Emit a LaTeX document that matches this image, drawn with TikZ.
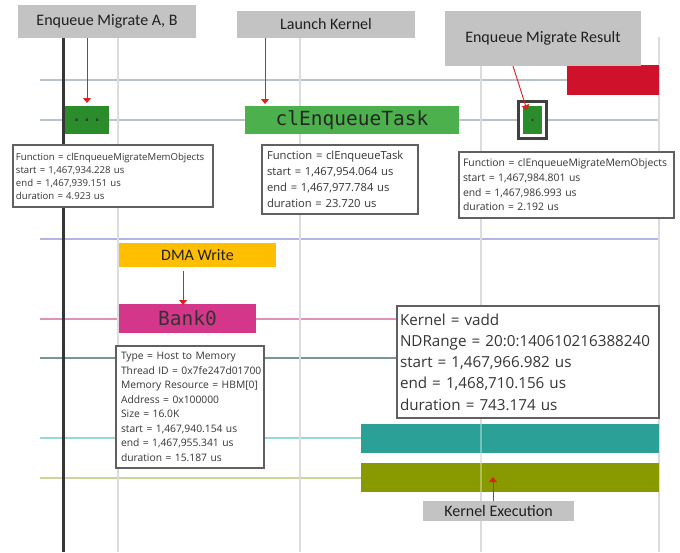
\documentclass[tikz,border=0pt]{standalone}
\usepackage{fontspec}
\setmainfont{Open Sans}
\newfontfamily\labelfont{Carlito}
\newfontfamily\codefont{DejaVu Sans Mono}
\usetikzlibrary{arrows.meta}

\definecolor{gridgrey}{HTML}{DCDCDC}
\definecolor{axisdark}{HTML}{363636}
\definecolor{trackblue}{HTML}{B8C4CC}
\definecolor{tracklav}{HTML}{B4B4E6}
\definecolor{trackpink}{HTML}{E092BA}
\definecolor{trackslate}{HTML}{789696}
\definecolor{trackcyan}{HTML}{98D8D8}
\definecolor{tracklime}{HTML}{C8D898}
\definecolor{barred}{HTML}{D0112B}
\definecolor{bardkgreen}{HTML}{2A8C2A}
\definecolor{bargreen}{HTML}{4CB04C}
\definecolor{baramber}{HTML}{FFBE00}
\definecolor{barmagenta}{HTML}{D4378A}
\definecolor{barteal}{HTML}{2AA096}
\definecolor{barolive}{HTML}{889A00}
\definecolor{calloutgrey}{HTML}{C3C3C3}
\definecolor{labeltext}{HTML}{202020}
\definecolor{infoborder}{HTML}{606060}
\definecolor{infotext}{HTML}{353535}
\definecolor{framegrey}{HTML}{404040}
\definecolor{arrowred}{HTML}{E02020}

% one unbreakable line of a tooltip
\newcommand\tipline[1]{\mbox{#1}}

\begin{document}
\begin{tikzpicture}[x=1pt,y=-1pt,
  grid/.style={draw=gridgrey, line width=2.5pt},
  track/.style={line width=2.2pt},
  bar/.style={anchor=north west, inner sep=0pt, outer sep=0pt},
  callout/.style={bar, fill=calloutgrey, text=labeltext,
    font=\labelfont\fontsize{16}{18}\selectfont},
  info/.style={anchor=north west, draw=infoborder, line width=2pt, fill=white,
    text=infotext, align=left, inner xsep=3pt, inner ysep=0pt, outer sep=0pt},
  pointer/.style={draw=arrowred, line width=0.9pt,
    -{Triangle[length=5pt,width=8pt]}},
]
\useasboundingbox[fill=white] (0,0) rectangle (680,552);

% timeline tracks
\draw[track, draw=trackblue]  (40,80)  -- (659,80);
\draw[track, draw=trackblue]  (40,120) -- (659,120);
\draw[track, draw=tracklav]   (40,239) -- (659,239);
\draw[track, draw=trackpink]  (40,319) -- (659,319);
\draw[track, draw=trackslate] (40,358) -- (659,358);
\draw[track, draw=trackcyan]  (40,438) -- (659,438);
\draw[track, draw=tracklime]  (40,478) -- (659,478);

% time grid
\foreach \gx in {118,300,481,659}
  \draw[grid] (\gx,37) -- (\gx,552);
\draw[draw=axisdark, line width=3pt] (63,38) -- (63,552);

% activity bars
\node[bar, fill=barred, minimum width=92pt, minimum height=30pt] (hostbar) at (567,65) {};
\node[bar, fill=bardkgreen, minimum width=44pt, minimum height=28pt,
  text=black!80, font=\codefont\fontsize{17}{17}\selectfont] (dots) at (65,106) {...};
\node[bar, fill=bargreen, minimum width=214pt, minimum height=28pt,
  text=black!85, font=\codefont\fontsize{19.5}{20}\selectfont] (task) at (245,106) {clEnqueueTask};
\node[bar, draw=framegrey, line width=3pt, fill=white,
  minimum width=28pt, minimum height=37pt] (resframe) at (518.5,101.5) {};
\node[bar, fill=bardkgreen, minimum width=19pt, minimum height=28pt,
  text=black!80, font=\codefont\fontsize{14}{14}\selectfont] (res) at (523,106) {.};
\node[bar, fill=baramber, minimum width=157pt, minimum height=24pt,
  text=labeltext, font=\labelfont\fontsize{16}{18}\selectfont] (dma) at (119,243) {DMA Write};
\node[bar, fill=barmagenta, minimum width=137pt, minimum height=29pt,
  text=black!80, font=\codefont\fontsize{19.5}{20}\selectfont] (bank) at (119,304) {Bank0};
\node[bar, fill=barteal, minimum width=298pt, minimum height=29pt] (cu) at (361,424) {};
\node[bar, fill=barolive, minimum width=298pt, minimum height=29pt] (kexec) at (361,463) {};
\draw[draw=white, opacity=0.35, line width=2pt] (cu.north -| 481,0) -- (kexec.south -| 481,0);

% tooltips
\node[info, text width=194pt, minimum height=62pt, font=\fontsize{9.6}{13}\selectfont] (infoA) at (13,145)
  {\tipline{Function = clEnqueueMigrateMemObjects}\\\tipline{start = 1,467,934.228 us}\\\tipline{end = 1,467,939.151 us}\\\tipline{duration = 4.923 us}};
\node[info, inner xsep=5pt, text width=146pt, minimum height=69pt, font=\fontsize{11.2}{16.2}\selectfont] (infoK) at (262,145)
  {\tipline{Function = clEnqueueTask}\\\tipline{start = 1,467,954.064 us}\\\tipline{end = 1,467,977.784 us}\\\tipline{duration = 23.720 us}};
\node[info, inner xsep=4pt, text width=207pt, minimum height=66pt, font=\fontsize{10.4}{14.7}\selectfont] (infoR) at (459,152)
  {\tipline{Function = clEnqueueMigrateMemObjects}\\\tipline{start = 1,467,984.801 us}\\\tipline{end = 1,467,986.993 us}\\\tipline{duration = 2.192 us}};
\node[info, inner xsep=5pt, text width=138pt, minimum height=122pt, font=\fontsize{10.3}{14.5}\selectfont] (infoD) at (116,346)
  {\tipline{Type = Host to Memory}\\\tipline{Thread ID = 0x7fe247d01700}\\\tipline{Memory Resource = HBM[0]}\\\tipline{Address = 0x100000}\\\tipline{Size = 16.0K}\\\tipline{start = 1,467,940.154 us}\\\tipline{end = 1,467,955.341 us}\\\tipline{duration = 15.187 us}};
\node[info, text width=256pt, minimum height=112pt, font=\fontsize{15.2}{21.2}\selectfont] (infoV) at (397,306)
  {\tipline{Kernel = vadd}\\\tipline{NDRange = 20:0:140610216388240}\\\tipline{start = 1,467,966.982 us}\\\tipline{end = 1,468,710.156 us}\\\tipline{duration = 743.174 us}};

% callouts
\node[callout, minimum width=178pt, minimum height=33pt] (cA) at (18,5) {Enqueue Migrate A, B};
\node[callout, minimum width=178pt, minimum height=27pt] (cK) at (237,11) {Launch Kernel};
\node[callout, minimum width=196pt, minimum height=55pt] (cR) at (445,11) {Enqueue Migrate Result};
\node[callout, minimum width=151pt, minimum height=20pt] (cE) at (423,501) {Kernel Execution};

% pointers
\coordinate (tipA) at (87,103);
\coordinate (tipK) at (265,104);
\coordinate (tailR) at (513,0);
\coordinate (tipR) at (527,110);
\coordinate (dmax) at (183,0);
\coordinate (tipE) at (493,477);
\draw[pointer] (cA.south -| tipA) -- (tipA);
\draw[pointer] (cK.south -| tipK) -- (tipK);
\draw[pointer] (cR.south -| tailR) -- (tipR);
\draw[pointer] (dma.south -| dmax) ++(0,4) -- ([yshift=-1pt]bank.north -| dmax);
\draw[pointer] (cE.north -| tipE) -- (tipE);
\end{tikzpicture}
\end{document}
